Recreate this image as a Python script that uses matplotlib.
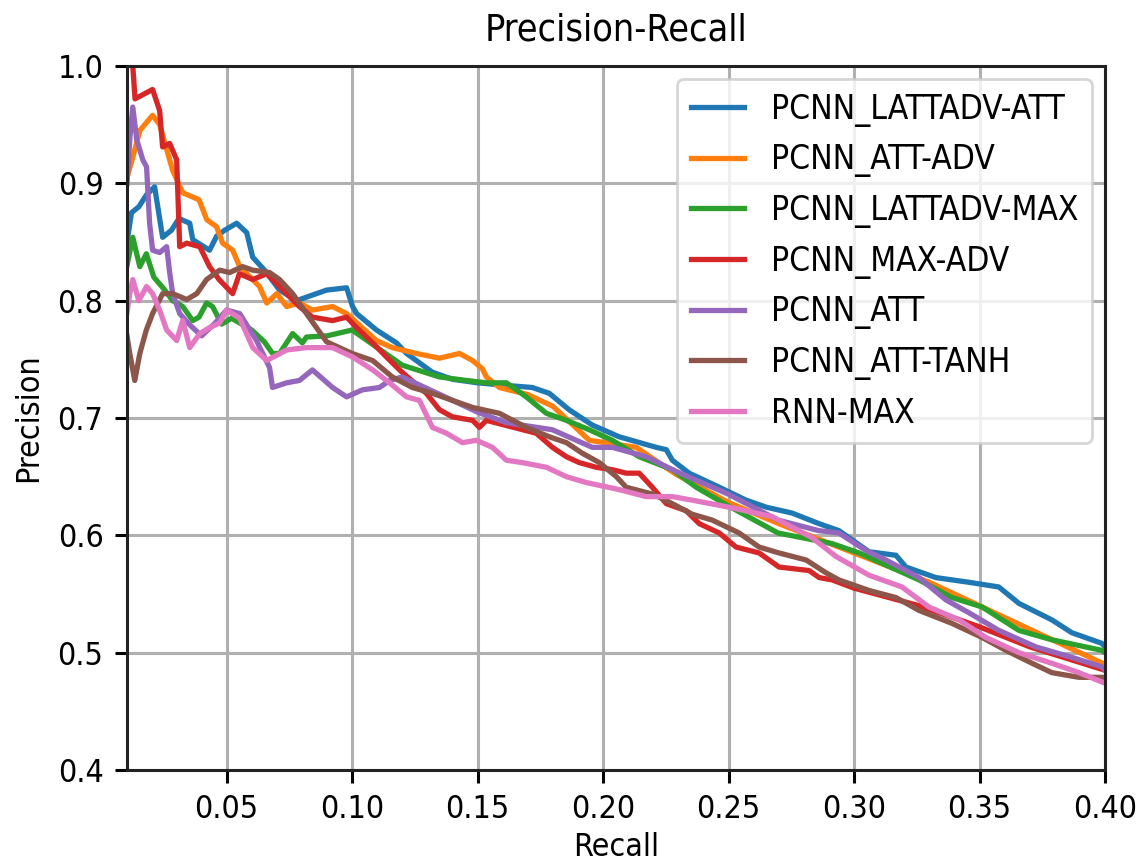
import matplotlib
matplotlib.use('Agg')
import matplotlib.pyplot as plt
from matplotlib import font_manager
import numpy as np

# the reference text looks narrow, use condensed DejaVu if we have it
fp = font_manager.FontProperties(family='DejaVu Sans', stretch='condensed')
cond = 'Condensed' in font_manager.findfont(fp)
plt.rcParams['font.family'] = ['DejaVu Sans']
if cond:
    plt.rcParams['font.stretch'] = 'condensed'
k = 1.0 if cond else 0.88

labels = ['PCNN_LATTADV-ATT', 'PCNN_ATT-ADV', 'PCNN_LATTADV-MAX', 'PCNN_MAX-ADV',
          'PCNN_ATT', 'PCNN_ATT-TANH', 'RNN-MAX']

blue_r = [0.0103, 0.0121, 0.015, 0.018, 0.0213, 0.0245, 0.028, 0.031, 0.0353, 0.0365,
          0.0432, 0.046, 0.0492, 0.054, 0.058, 0.0604, 0.0651, 0.0711, 0.0779, 0.0818,
          0.0898, 0.0978, 0.1002, 0.1018, 0.1097, 0.1177, 0.1217, 0.132, 0.14, 0.15,
          0.16, 0.1718, 0.1786, 0.1865, 0.1957, 0.2064, 0.2212, 0.2252, 0.2276, 0.2343,
          0.2463, 0.257, 0.265, 0.2753, 0.286, 0.294, 0.306, 0.3167, 0.3207, 0.3326,
          0.3458, 0.3577, 0.3657, 0.3788, 0.3868, 0.3987, 0.40]
blue_p = [0.85, 0.875, 0.88, 0.89, 0.897, 0.854, 0.86, 0.87, 0.866, 0.852,
          0.843, 0.855, 0.86, 0.866, 0.858, 0.837, 0.826, 0.809, 0.80, 0.803,
          0.809, 0.811, 0.795, 0.789, 0.775, 0.764, 0.755, 0.739, 0.733, 0.73,
          0.728, 0.726, 0.721, 0.707, 0.694, 0.684, 0.675, 0.673, 0.664, 0.653,
          0.641, 0.63, 0.624, 0.619, 0.61, 0.604, 0.586, 0.583, 0.573, 0.564,
          0.56, 0.556, 0.542, 0.528, 0.517, 0.508, 0.505]

orange_r = [0.0103, 0.0126, 0.0154, 0.0205, 0.0233, 0.0285, 0.0325, 0.039, 0.0421, 0.046,
            0.0484, 0.0524, 0.0552, 0.0604, 0.0631, 0.066, 0.07, 0.0739, 0.079, 0.0842,
            0.0922, 0.0978, 0.104, 0.1097, 0.116, 0.1256, 0.1348, 0.1428, 0.148, 0.1519,
            0.1535, 0.1587, 0.17, 0.18, 0.1945, 0.2132, 0.2291, 0.25, 0.27, 0.30,
            0.33, 0.36, 0.38, 0.40]
orange_p = [0.905, 0.922, 0.945, 0.958, 0.95, 0.911, 0.892, 0.886, 0.869, 0.863,
            0.849, 0.843, 0.829, 0.818, 0.812, 0.798, 0.806, 0.795, 0.798, 0.792,
            0.795, 0.789, 0.777, 0.766, 0.76, 0.755, 0.751, 0.755, 0.749, 0.742,
            0.735, 0.726, 0.72, 0.71, 0.681, 0.675, 0.652, 0.628, 0.61, 0.585,
            0.56, 0.53, 0.51, 0.49]

green_r = [0.0103, 0.0126, 0.0154, 0.018, 0.021, 0.025, 0.0285, 0.0325, 0.0365, 0.039,
           0.042, 0.0444, 0.048, 0.052, 0.056, 0.06, 0.065, 0.0683, 0.0711, 0.0763,
           0.0802, 0.0818, 0.09, 0.10, 0.11, 0.12, 0.1348, 0.1455, 0.1535, 0.1615,
           0.1694, 0.1774, 0.1854, 0.1945, 0.2037, 0.2144, 0.2276, 0.2371, 0.25, 0.2697,
           0.2912, 0.302, 0.3259, 0.339, 0.351, 0.3657, 0.3788, 0.3987, 0.40]
green_p = [0.83, 0.854, 0.829, 0.84, 0.82, 0.81, 0.80, 0.795, 0.783, 0.786,
           0.798, 0.795, 0.78, 0.785, 0.78, 0.775, 0.765, 0.755, 0.755, 0.772,
           0.764, 0.769, 0.77, 0.775, 0.76, 0.745, 0.735, 0.732, 0.73, 0.73,
           0.718, 0.704, 0.698, 0.69, 0.681, 0.667, 0.656, 0.641, 0.625, 0.602,
           0.593, 0.585, 0.562, 0.547, 0.539, 0.519, 0.511, 0.502, 0.50]

red_r = [0.011, 0.0135, 0.0205, 0.0233, 0.0245, 0.0273, 0.0301, 0.0313, 0.0341, 0.0393,
         0.0432, 0.047, 0.0524, 0.0551, 0.0604, 0.066, 0.072, 0.079, 0.0842, 0.0922,
         0.0978, 0.1018, 0.1082, 0.1137, 0.1189, 0.1296, 0.1348, 0.14, 0.148, 0.1507,
         0.1535, 0.1734, 0.1798, 0.1854, 0.1905, 0.1973, 0.2037, 0.2092, 0.2144, 0.2196,
         0.2252, 0.2331, 0.2383, 0.2463, 0.253, 0.2622, 0.2701, 0.2821, 0.2861, 0.2913,
         0.30, 0.326, 0.35, 0.37, 0.385, 0.40]
red_p = [1.05, 0.972, 0.98, 0.962, 0.931, 0.934, 0.92, 0.846, 0.849, 0.846,
         0.829, 0.818, 0.806, 0.823, 0.818, 0.823, 0.81, 0.795, 0.786, 0.783,
         0.786, 0.777, 0.764, 0.752, 0.741, 0.721, 0.707, 0.701, 0.698, 0.692,
         0.698, 0.687, 0.675, 0.667, 0.662, 0.658, 0.656, 0.653, 0.653, 0.641,
         0.627, 0.621, 0.61, 0.602, 0.59, 0.585, 0.573, 0.57, 0.564, 0.562,
         0.555, 0.54, 0.522, 0.505, 0.495, 0.485]

purple_r = [0.0103, 0.0115, 0.0126, 0.0142, 0.0166, 0.0181, 0.0193, 0.0205, 0.0233, 0.0261,
            0.0273, 0.0285, 0.0313, 0.035, 0.04, 0.045, 0.05, 0.0552, 0.0619, 0.0671,
            0.0683, 0.0739, 0.079, 0.0842, 0.0922, 0.0978, 0.1041, 0.1109, 0.1149, 0.12,
            0.13, 0.14, 0.15, 0.1615, 0.1798, 0.1957, 0.2037, 0.2172, 0.2276, 0.2371,
            0.25, 0.2697, 0.286, 0.294, 0.3048, 0.3127, 0.3259, 0.3366, 0.3458, 0.3577,
            0.3724, 0.3868, 0.3987, 0.40]
purple_p = [0.90, 0.94, 0.965, 0.937, 0.92, 0.914, 0.866, 0.843, 0.841, 0.846,
            0.824, 0.806, 0.789, 0.78, 0.77, 0.78, 0.792, 0.789, 0.766, 0.743,
            0.726, 0.73, 0.732, 0.741, 0.726, 0.718, 0.724, 0.726, 0.732, 0.735,
            0.725, 0.715, 0.705, 0.696, 0.69, 0.675, 0.675, 0.667, 0.656, 0.647,
            0.635, 0.613, 0.604, 0.602, 0.587, 0.579, 0.564, 0.545, 0.534, 0.519,
            0.505, 0.496, 0.488, 0.485]

brown_r = [0.0103, 0.0114, 0.0134, 0.0154, 0.018, 0.0205, 0.0245, 0.0285, 0.0341, 0.0381,
           0.042, 0.0472, 0.0512, 0.0564, 0.0604, 0.0671, 0.0711, 0.0763, 0.0818, 0.0898,
           0.1, 0.1082, 0.116, 0.124, 0.132, 0.14, 0.148, 0.1587, 0.1694, 0.1786,
           0.1854, 0.1917, 0.1985, 0.2053, 0.2092, 0.22, 0.2276, 0.2355, 0.2435, 0.2542,
           0.2622, 0.2701, 0.2809, 0.2889, 0.294, 0.306, 0.3167, 0.3259, 0.339, 0.351,
           0.3605, 0.3709, 0.3788, 0.3896, 0.40]
brown_p = [0.77, 0.755, 0.732, 0.755, 0.775, 0.789, 0.806, 0.806, 0.801, 0.806,
           0.818, 0.826, 0.824, 0.829, 0.826, 0.824, 0.818, 0.806, 0.789, 0.765,
           0.755, 0.749, 0.735, 0.726, 0.721, 0.715, 0.709, 0.704, 0.692, 0.684,
           0.679, 0.67, 0.662, 0.65, 0.641, 0.635, 0.627, 0.618, 0.613, 0.602,
           0.59, 0.585, 0.579, 0.568, 0.562, 0.553, 0.547, 0.536, 0.525, 0.513,
           0.502, 0.491, 0.483, 0.479, 0.479]

pink_r = [0.0103, 0.0114, 0.0126, 0.015, 0.0181, 0.0205, 0.0233, 0.0261, 0.0301, 0.0325,
          0.0353, 0.0393, 0.0432, 0.0472, 0.05, 0.0552, 0.0604, 0.066, 0.0739, 0.0818,
          0.0922, 0.1002, 0.1082, 0.1149, 0.1217, 0.1268, 0.132, 0.1376, 0.144, 0.1495,
          0.1559, 0.1615, 0.1678, 0.1774, 0.1854, 0.1933, 0.2064, 0.2172, 0.2276, 0.2355,
          0.2502, 0.2673, 0.2833, 0.2928, 0.306, 0.3191, 0.3298, 0.3418, 0.3525, 0.3657,
          0.3788, 0.3896, 0.40]
pink_p = [0.79, 0.806, 0.818, 0.80, 0.812, 0.806, 0.792, 0.775, 0.766, 0.783,
          0.76, 0.772, 0.777, 0.781, 0.792, 0.785, 0.76, 0.749, 0.758, 0.76,
          0.76, 0.752, 0.741, 0.73, 0.718, 0.715, 0.692, 0.687, 0.679, 0.681,
          0.675, 0.664, 0.662, 0.658, 0.65, 0.645, 0.639, 0.633, 0.633, 0.63,
          0.624, 0.616, 0.598, 0.582, 0.566, 0.556, 0.539, 0.528, 0.513, 0.50,
          0.491, 0.483, 0.474]

curves = [(blue_r, blue_p), (orange_r, orange_p), (green_r, green_p), (red_r, red_p),
          (purple_r, purple_p), (brown_r, brown_p), (pink_r, pink_p)]

fig = plt.figure(figsize=(11.38, 8.65), dpi=100)
ax = fig.add_axes([0.1116, 0.1098, 0.8594, 0.8139])

for i, (r, p) in enumerate(curves):
    ax.plot(r, p, color='C%d' % i, lw=3.8, label=labels[i])

ax.set_xlim(0.0103, 0.40)
ax.set_ylim(0.4, 1.0)
ax.set_xticks([0.05, 0.10, 0.15, 0.20, 0.25, 0.30, 0.35, 0.40])
ax.set_xticklabels(['0.05', '0.10', '0.15', '0.20', '0.25', '0.30', '0.35', '0.40'])
ax.set_yticks([0.4, 0.5, 0.6, 0.7, 0.8, 0.9, 1.0])
ax.grid(True, color='#b0b0b0', lw=2.2)
ax.set_axisbelow(True)
for s in ax.spines.values():
    s.set_linewidth(2.2)
    s.set_color('#222222')
ax.tick_params(labelsize=23 * k, length=9, width=2.2, pad=8)

ax.set_title('Precision-Recall', fontsize=27 * k, pad=18)
ax.set_xlabel('Recall', fontsize=23 * k, labelpad=5)
ax.set_ylabel('Precision', fontsize=23 * k, labelpad=10)

leg = ax.legend(loc='upper right', fontsize=24 * k, handlelength=1.6,
                borderaxespad=0.4, framealpha=0.8)
leg.get_frame().set_edgecolor('#cccccc')
leg.get_frame().set_linewidth(2)

fig.savefig('out.png', dpi=100)
